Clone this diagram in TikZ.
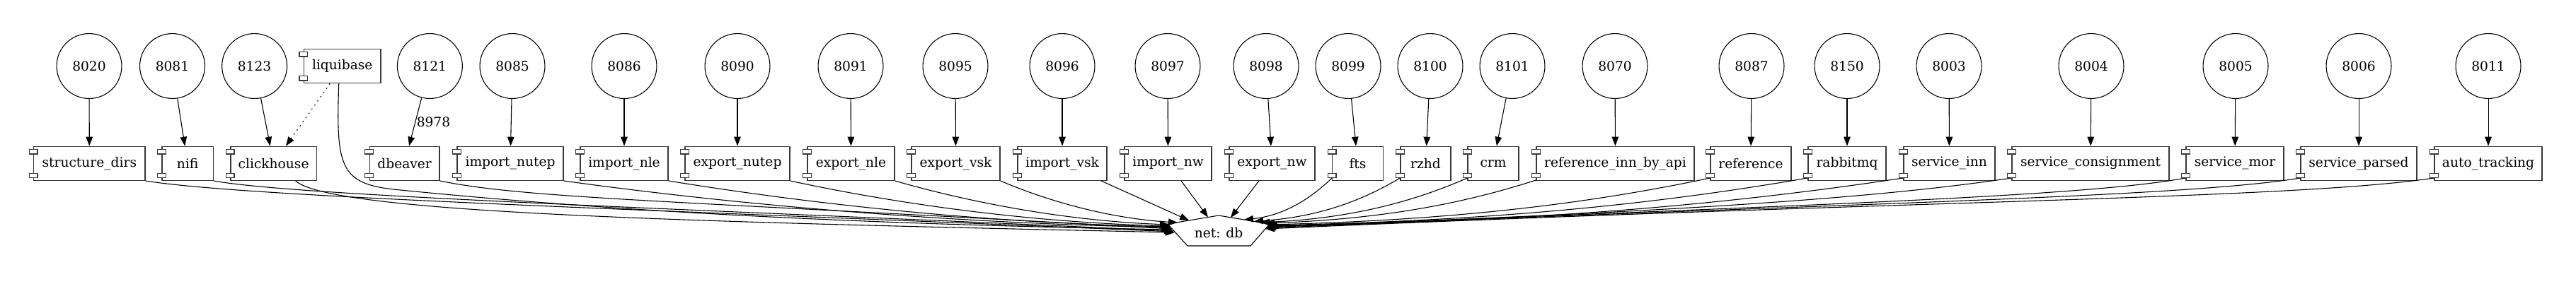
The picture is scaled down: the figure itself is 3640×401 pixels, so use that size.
\documentclass[tikz,border=0pt]{standalone}
\usepackage{fontspec}
\setmainfont{DejaVu Serif}
\usetikzlibrary{arrows.meta,calc}
\definecolor{boxgray}{rgb}{0.22,0.22,0.22}
\newcommand\cmpnode[4]{%
  \node[cmpbox, minimum width=#3*0.7353pt] (#1) at (#2,231.3) {#4};
  \draw[prtrect] ($(#1.north west)+(-5.85,5)$) rectangle ++(11.7,6.3);
  \draw[prtrect] ($(#1.south west)+(-5.85,-4.3)$) rectangle ++(11.7,-6.3);
}
\newcommand\portnode[3]{\node[portcirc] (#1) at (#2,93.5) {#3};}
\begin{document}
\begin{tikzpicture}[x=0.7353pt,y=-0.7353pt,
  font=\fontsize{13.7pt}{16pt}\selectfont,
  portcirc/.style={circle, draw=black, line width=0.8pt, minimum size=67.6pt, inner sep=0pt},
  cmpbox/.style={draw=boxgray, line width=1pt, fill=white, minimum height=35.3pt, inner sep=0pt},
  prtrect/.style={draw=boxgray, line width=0.9pt, fill=white},
  arrowline/.style={draw=black, line width=0.8pt, -{Triangle[length=9.5pt,width=7pt]}},
  dotline/.style={dash pattern=on 1.3pt off 4pt},
  dbline/.style={draw=black, line width=0.8pt}]
\useasboundingbox (0,0) rectangle (3640,401);

% port circles
\portnode{p8020}{126}{8020}
\portnode{p8081}{243.5}{8081}
\portnode{p8123}{359.6}{8123}
\portnode{p8121}{607.4}{8121}
\portnode{p8085}{724}{8085}
\portnode{p8086}{882}{8086}
\portnode{p8090}{1042}{8090}
\portnode{p8091}{1202}{8091}
\portnode{p8095}{1350}{8095}
\portnode{p8096}{1501}{8096}
\portnode{p8097}{1650}{8097}
\portnode{p8098}{1789}{8098}
\portnode{p8099}{1905}{8099}
\portnode{p8100}{2021}{8100}
\portnode{p8101}{2137}{8101}
\portnode{p8070}{2282}{8070}
\portnode{p8087}{2475}{8087}
\portnode{p8150}{2610}{8150}
\portnode{p8003}{2754}{8003}
\portnode{p8004}{2955}{8004}
\portnode{p8005}{3159}{8005}
\portnode{p8006}{3333}{8006}
\portnode{p8011}{3516}{8011}

% liquibase component
\node[cmpbox, minimum width=108.5*0.7353pt, minimum height=35.6pt] (lq) at (483.75,93.5) {liquibase};
\draw[prtrect] ($(lq.north west)+(-5.85,5)$) rectangle ++(11.7,6.3);
\draw[prtrect] ($(lq.south west)+(-5.85,-4.3)$) rectangle ++(11.7,-6.3);

% service components
\cmpnode{sd}{126.35}{157.1}{structure\_dirs}
\cmpnode{nifi}{265.15}{72.3}{nifi}
\cmpnode{ch}{386.6}{121.4}{clickhouse}
\cmpnode{dbv}{571.65}{98.7}{dbeaver}
\cmpnode{inut}{721}{150}{import\_nutep}
\cmpnode{inle}{882}{124}{import\_nle}
\cmpnode{enut}{1042}{148}{export\_nutep}
\cmpnode{enle}{1202.5}{123}{export\_nle}
\cmpnode{evsk}{1350.5}{125}{export\_vsk}
\cmpnode{ivsk}{1501}{126}{import\_vsk}
\cmpnode{inw}{1650.5}{123}{import\_nw}
\cmpnode{enw}{1797.5}{121}{export\_nw}
\cmpnode{fts}{1918.5}{71.6}{fts}
\cmpnode{rzhd}{2014.5}{71}{rzhd}
\cmpnode{crm}{2110}{72}{crm}
\cmpnode{refapi}{2282.5}{223}{reference\_inn\_by\_api}
\cmpnode{ref}{2474}{114}{reference}
\cmpnode{rmq}{2610}{110}{rabbitmq}
\cmpnode{sinn}{2754.5}{129}{service\_inn}
\cmpnode{scon}{2954}{222}{service\_consignment}
\cmpnode{smor}{3158}{138}{service\_mor}
\cmpnode{spar}{3333}{164}{service\_parsed}
\cmpnode{auto}{3516}{152}{auto\_tracking}

% db node
\node[inner sep=0pt] (db) at (1722,330) {net: db};
\draw[dbline] ($(db.center)+(0,-25)$) -- ($(db.center)+(72,-13)$) -- ($(db.center)+(45,18)$)
  -- ($(db.center)+(-44,18)$) -- ($(db.center)+(-72,-13)$) -- cycle;

% port -> service
\draw[arrowline] (p8020) -- (sd);
\draw[arrowline] (p8081) -- (nifi);
\draw[arrowline] (p8123) -- (ch);
\draw[arrowline] (p8121) -- node[anchor=west, inner sep=1pt, pos=0.5] {8978} (dbv);
\draw[arrowline] (p8085) -- (inut);
\draw[arrowline] (p8086) -- (inle);
\draw[arrowline] (p8090) -- (enut);
\draw[arrowline] (p8091) -- (enle);
\draw[arrowline] (p8095) -- (evsk);
\draw[arrowline] (p8096) -- (ivsk);
\draw[arrowline] (p8097) -- (inw);
\draw[arrowline] (p8098) -- (enw);
\draw[arrowline] (p8099) -- (fts);
\draw[arrowline] (p8100) -- (rzhd);
\draw[arrowline] (p8101) -- (crm);
\draw[arrowline] (p8070) -- (refapi);
\draw[arrowline] (p8087) -- (ref);
\draw[arrowline] (p8150) -- (rmq);
\draw[arrowline] (p8003) -- (sinn);
\draw[arrowline] (p8004) -- (scon);
\draw[arrowline] (p8005) -- (smor);
\draw[arrowline] (p8006) -- (spar);
\draw[arrowline] (p8011) -- (auto);
\draw[arrowline, dotline] (lq) -- (ch);

% service -> db (left side)
\draw[arrowline] (sd.south east) .. controls ($(sd.south east)+(150,24)$) and ($(db.center)+(-763,-32)$) .. ($(db.center)+(-63,-2)$);
\draw[arrowline] (nifi.south east) .. controls ($(nifi.south east)+(120,22)$) and ($(db.center)+(-714,-33)$) .. ($(db.center)+(-64,-3)$);
\draw[arrowline] ($(ch.south)+(31,0)$) .. controls ($(ch.south)+(81,45)$) and ($(db.center)+(-762,-16)$) .. ($(db.center)+(-62,-1)$);
\draw[arrowline] ($(lq.south)+(-5,0)$) .. controls ($(lq.south)+(-9,117)$) and ($(lq.south)+(-4,142)$) .. ($(lq.south)+(76,150)$)
  .. controls ($(lq.south)+(416,184)$) and ($(db.center)+(-465,-12)$) .. ($(db.center)+(-65,-5)$);
\draw[arrowline] (dbv.south east) .. controls ($(dbv.south east)+(120,25)$) and ($(db.center)+(-766,-46)$) .. ($(db.center)+(-66,-6)$);
\draw[arrowline] (inut.south east) .. controls ($(inut.south east)+(215,30)$) and ($(db.center)+(-411,-15)$) .. ($(db.center)+(-67,-8)$);
\draw[arrowline] (inle.south east) .. controls ($(inle.south east)+(178,29)$) and ($(db.center)+(-352,-15)$) .. ($(db.center)+(-68,-9)$);
\draw[arrowline] (enut.south east) .. controls ($(enut.south east)+(134,29)$) and ($(db.center)+(-284,-16)$) .. ($(db.center)+(-69,-10)$);
\draw[arrowline] (enle.south east) .. controls ($(enle.south east)+(97,28)$) and ($(db.center)+(-225,-18)$) .. ($(db.center)+(-70,-12)$);
\draw[arrowline] (evsk.south east) .. controls ($(evsk.south east)+(63,27)$) and ($(db.center)+(-158,-21)$) .. ($(db.center)+(-58,-15)$);
\draw[arrowline] ($(ivsk.south)+(55,0)$) -- ($(db.center)+(-42,-18)$);
\draw[arrowline] ($(inw.south)+(18.5,0)$) -- ($(db.center)+(-15,-22.5)$);
\draw[arrowline] ($(enw.south)+(-18.5,0)$) -- ($(db.center)+(17,-22)$);

% service -> db (right side)
\draw[arrowline] ($(fts.south west)+(0,-4)$) .. controls ($(fts.south west)+(-31,26)$) and ($(db.center)+(92,-25)$) .. ($(db.center)+(36,-19)$);
\draw[arrowline] ($(rzhd.south west)+(0,-4)$) .. controls ($(rzhd.south west)+(-52,27)$) and ($(db.center)+(143,-23)$) .. ($(db.center)+(50,-16.7)$);
\draw[arrowline] ($(crm.south west)+(0,-4)$) .. controls ($(crm.south west)+(-73,28)$) and ($(db.center)+(191,-21)$) .. ($(db.center)+(59,-15)$);
\draw[arrowline] ($(refapi.south west)+(0,-1)$) .. controls ($(refapi.south west)+(-96,30)$) and ($(db.center)+(238,-20)$) .. ($(db.center)+(66,-14)$);
\draw[arrowline] ($(ref.south west)+(0,-4)$) .. controls ($(ref.south west)+(-156,29)$) and ($(db.center)+(351,-19)$) .. ($(db.center)+(70,-12)$);
\draw[arrowline] ($(rmq.south west)+(0,-4)$) .. controls ($(rmq.south west)+(-191,29)$) and ($(db.center)+(413,-18)$) .. ($(db.center)+(70,-11)$);
\draw[arrowline] ($(sinn.south west)+(0,-4)$) .. controls ($(sinn.south west)+(-225,30)$) and ($(db.center)+(474,-17)$) .. ($(db.center)+(69,-10)$);
\draw[arrowline] ($(scon.south west)+(0,-4)$) .. controls ($(scon.south west)+(-200,26)$) and ($(db.center)+(618,-29)$) .. ($(db.center)+(68,-9)$);
\draw[arrowline] ($(smor.south west)+(0,-4)$) .. controls ($(smor.south west)+(-150,24)$) and ($(db.center)+(767,-38)$) .. ($(db.center)+(67,-8)$);
\draw[arrowline] ($(spar.south west)+(0,-4)$) .. controls ($(spar.south west)+(-170,24)$) and ($(db.center)+(867,-42)$) .. ($(db.center)+(67,-7)$);
\draw[arrowline] ($(auto.south west)+(0,-4)$) .. controls ($(auto.south west)+(-200,26)$) and ($(db.center)+(966,-46)$) .. ($(db.center)+(66,-6)$);
\end{tikzpicture}
\end{document}
